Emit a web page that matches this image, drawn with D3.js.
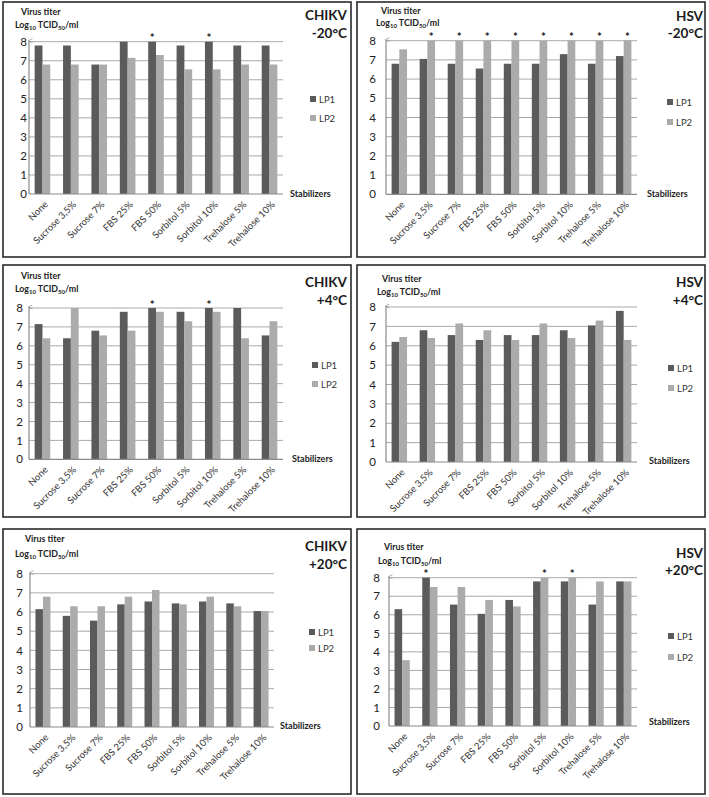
<!DOCTYPE html>
<html><head><meta charset="utf-8">
<script src="https://cdn.jsdelivr.net/npm/d3@7"></script>
<style>
html,body{margin:0;padding:0;background:#fff;}
svg{display:block;font-family:Lato,"Open Sans",sans-serif;}
</style></head>
<body>
<svg id="chart" width="709" height="797"></svg>
<script>
// ---- data ----
const categories = ["None","Sucrose 3,5%","Sucrose 7%","FBS 25%","FBS 50%","Sorbitol 5%","Sorbitol 10%","Trehalose 5%","Trehalose 10%"];
const seriesNames = ["LP1","LP2"];
const yTickValues = [0,1,2,3,4,5,6,7,8];

const chikvM20_LP1 = [7.8,7.8,6.8,8,8,7.8,8,7.8,7.8];
const chikvM20_LP2 = [6.8,6.8,6.8,7.15,7.3,6.55,6.55,6.8,6.8];
const hsvM20_LP1 = [6.8,7.05,6.8,6.55,6.8,6.8,7.3,6.8,7.2];
const hsvM20_LP2 = [7.55,8,8,8,8,8,8,8,8];
const chikvP4_LP1 = [7.15,6.4,6.8,7.8,8,7.8,8,8,6.55];
const chikvP4_LP2 = [6.4,8,6.55,6.8,7.8,7.3,7.8,6.4,7.3];
const hsvP4_LP1 = [6.2,6.8,6.55,6.3,6.55,6.55,6.8,7.05,7.8];
const hsvP4_LP2 = [6.45,6.4,7.15,6.8,6.3,7.15,6.4,7.3,6.3];
const chikvP20_LP1 = [6.15,5.8,5.55,6.4,6.55,6.45,6.55,6.45,6.05];
const chikvP20_LP2 = [6.8,6.3,6.3,6.8,7.15,6.4,6.8,6.3,6.05];
const hsvP20_LP1 = [6.3,8,6.55,6.05,6.8,7.8,7.8,6.55,7.8];
const hsvP20_LP2 = [3.55,7.5,7.5,6.8,6.45,8,8,7.8,7.8];

// significance markers: [category, series]
const chikvM20_stars = [["FBS 50%","LP1"],["Sorbitol 10%","LP1"]];
const hsvM20_stars = [["Sucrose 3,5%","LP2"],["Sucrose 7%","LP2"],["FBS 25%","LP2"],["FBS 50%","LP2"],["Sorbitol 5%","LP2"],["Sorbitol 10%","LP2"],["Trehalose 5%","LP2"],["Trehalose 10%","LP2"]];
const chikvP4_stars = [["FBS 50%","LP1"],["Sorbitol 10%","LP1"]];
const hsvP4_stars = [];
const chikvP20_stars = [];
const hsvP20_stars = [["Sucrose 3,5%","LP1"],["Sorbitol 5%","LP2"],["Sorbitol 10%","LP2"]];

const virusNames = ["CHIKV","HSV"];
const temperatures = ["-20°C","+4°C","+20°C"];

// ---- layout ----
const colors = {LP1:"#5b5b5b", LP2:"#ababab"};
const panels = [
 {virus:0,temp:0,lp1:chikvM20_LP1,lp2:chikvM20_LP2,stars:chikvM20_stars,
  box:[3,2,348,255], ax:29, ar:283, y8:41.7, y0:194, tickX:27, vt:[21,15], lg:[15,28], title:[347,20,38], stab:[290,197], leg:[310,99,118]},
 {virus:1,temp:0,lp1:hsvM20_LP1,lp2:hsvM20_LP2,stars:hsvM20_stars,
  box:[357,2,348,255], ax:386, ar:637, y8:40.7, y0:194.3, tickX:376, vt:[381,14], lg:[376,26], title:[703,21,38], stab:[647,197], leg:[667,102,122]},
 {virus:0,temp:1,lp1:chikvP4_LP1,lp2:chikvP4_LP2,stars:chikvP4_stars,
  box:[3,265,348,252], ax:29, ar:283, y8:308, y0:459.3, tickX:23, vt:[21,279], lg:[15,292], title:[347,287,305], stab:[292,462], leg:[312,365,384]},
 {virus:1,temp:1,lp1:hsvP4_LP1,lp2:hsvP4_LP2,stars:hsvP4_stars,
  box:[357,265,348,252], ax:386, ar:637, y8:307, y0:462, tickX:376, vt:[382,282], lg:[377,295], title:[703,287,305], stab:[649,464], leg:[668,368,388]},
 {virus:0,temp:2,lp1:chikvP20_LP1,lp2:chikvP20_LP2,stars:chikvP20_stars,
  box:[3,529,348,265], ax:30, ar:274, y8:573.7, y0:727, tickX:23, vt:[25,542], lg:[15,557], title:[347,551,569], stab:[280,729], leg:[309,632,648]},
 {virus:1,temp:2,lp1:hsvP20_LP1,lp2:hsvP20_LP2,stars:hsvP20_stars,
  box:[357,529,348,265], ax:389, ar:637, y8:577.7, y0:726, tickX:380, vt:[384,550], lg:[378,564], title:[703,558,575], stab:[649,725], leg:[668,636,657]}
];

const svg = d3.select("#chart");
const defs = svg.append("defs");
defs.append("marker").attr("id","arrow").attr("viewBox","0 0 10 10")
  .attr("refX",5).attr("refY",2).attr("markerWidth",5).attr("markerHeight",6).attr("orient","auto-start-reverse")
  .attr("markerUnits","userSpaceOnUse")
  .append("path").attr("d","M1,9 L5,1 L9,9").attr("fill","none").attr("stroke","#8a8a8a").attr("stroke-width",1.4);

panels.forEach(p => {
  const g = svg.append("g");
  // frame
  g.append("rect").attr("x",p.box[0]).attr("y",p.box[1]).attr("width",p.box[2]).attr("height",p.box[3])
    .attr("fill","#fff").attr("stroke","#2a2a2a").attr("stroke-width",1.6);

  const y = d3.scaleLinear().domain([0,8]).range([p.y0,p.y8]);
  const x = d3.scaleBand().domain(categories).range([p.ax,p.ar]).paddingInner(0.45).paddingOuter(0.2);
  const xs = d3.scaleBand().domain(seriesNames).range([0,x.bandwidth()]);

  // gridlines
  g.append("g").selectAll("line").data(yTickValues.filter(v=>v>0)).join("line")
    .attr("x1",p.ax).attr("x2",p.ar).attr("y1",d=>y(d)).attr("y2",d=>y(d))
    .attr("stroke","#a9a9a9").attr("stroke-width",1);

  // y tick labels via axis
  const yAxis = d3.axisLeft(y).tickValues(yTickValues).tickSize(0).tickPadding(0).tickFormat(d3.format("d"));
  const ya = g.append("g").attr("transform",`translate(${p.tickX},0)`).call(yAxis);
  ya.select(".domain").remove();
  ya.selectAll("text").attr("font-size",11.5).attr("fill","#222").attr("font-family","Lato,sans-serif");

  // bars
  const rows = categories.map((c,i)=>({cat:c, LP1:p.lp1[i], LP2:p.lp2[i]}));
  const bg = g.append("g");
  rows.forEach(r=>{
    seriesNames.forEach(s=>{
      bg.append("rect").attr("x",x(r.cat)+xs(s)).attr("width",xs.bandwidth())
        .attr("y",y(r[s])).attr("height",y(0)-y(r[s])).attr("fill",colors[s]);
    });
  });

  // x axis line
  g.append("line").attr("x1",p.ax).attr("x2",p.ar).attr("y1",y(0)).attr("y2",y(0))
    .attr("stroke","#8a8a8a").attr("stroke-width",1.2);
  // y axis with arrow
  g.append("line").attr("x1",p.ax).attr("x2",p.ax).attr("y1",y(0)).attr("y2",y(8)-1)
    .attr("stroke","#8a8a8a").attr("stroke-width",1.2).attr("marker-end","url(#arrow)");

  // category labels
  const xAxis = d3.axisBottom(x).tickSize(0).tickPadding(0);
  const xa = g.append("g").attr("transform",`translate(0,${y(0)})`).call(xAxis);
  xa.select(".domain").remove();
  xa.selectAll("text").attr("font-size",9.5).attr("fill","#333").attr("font-family","Lato,sans-serif")
    .attr("text-anchor","end").attr("dy",0)
    .attr("transform","translate(6,11) rotate(-45)");

  // stars
  g.append("g").selectAll("text").data(p.stars).join("text")
    .attr("x",d=>x(d[0])+xs(d[1])+xs.bandwidth()/2)
    .attr("y",d=>y(rows[categories.indexOf(d[0])][d[1]])+0.5)
    .attr("text-anchor","middle").attr("font-size",11.5).attr("font-weight","bold").attr("fill","#222").text("*");

  // y title
  g.append("text").attr("x",p.vt[0]).attr("y",p.vt[1]).attr("font-size",8.8).attr("font-weight","bold")
    .attr("fill","#222").text("Virus titer");
  const lt = g.append("text").attr("x",p.lg[0]).attr("y",p.lg[1]).attr("font-size",8.8).attr("font-weight","bold").attr("fill","#222");
  lt.append("tspan").text("Log");
  lt.append("tspan").attr("font-size",6).attr("dy",2).text("10");
  lt.append("tspan").attr("dy",-2).text(" TCID");
  lt.append("tspan").attr("font-size",6).attr("dy",2).text("50");
  lt.append("tspan").attr("dy",-2).text("/ml");

  // title
  g.append("text").attr("x",p.title[0]).attr("y",p.title[1]).attr("text-anchor","end")
    .attr("font-size",13.5).attr("font-weight","bold").attr("fill","#1a1a1a").text(virusNames[p.virus]);
  g.append("text").attr("x",p.title[0]).attr("y",p.title[2]).attr("text-anchor","end")
    .attr("font-size",13.5).attr("font-weight","bold").attr("fill","#1a1a1a").text(temperatures[p.temp]);

  // x title
  g.append("text").attr("x",p.stab[0]).attr("y",p.stab[1]).attr("font-size",9).attr("font-weight","bold")
    .attr("fill","#222").text("Stabilizers");

  // legend
  seriesNames.forEach((s,i)=>{
    const ly = p.leg[1+i];
    g.append("rect").attr("x",p.leg[0]).attr("y",ly-3).attr("width",6).attr("height",6).attr("fill",colors[s]);
    g.append("text").attr("x",p.leg[0]+9).attr("y",ly+3.5).attr("font-size",9.5).attr("fill","#333").text(s);
  });
});
</script>
</body></html>
